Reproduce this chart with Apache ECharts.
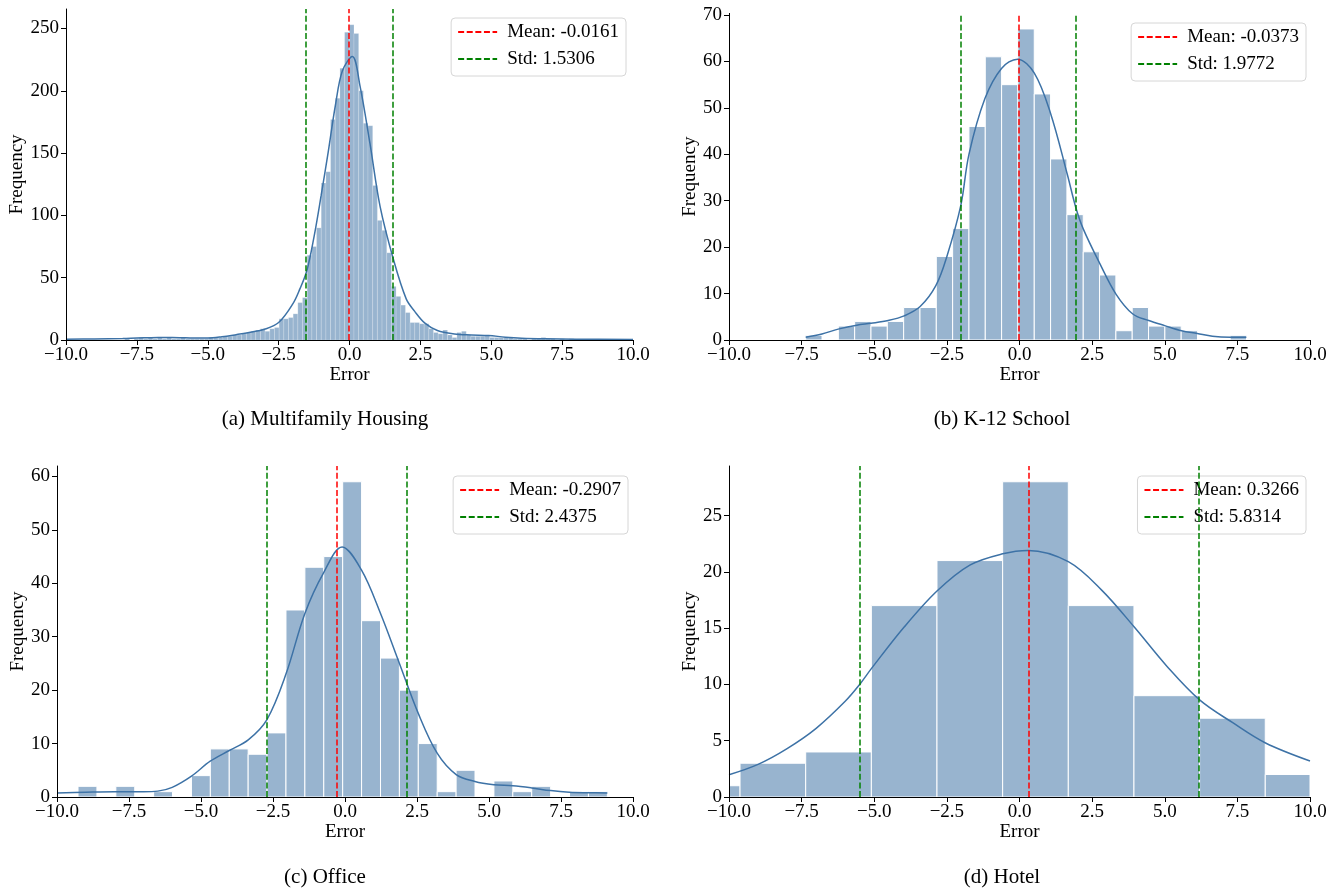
<!DOCTYPE html>
<html>
<head>
<meta charset="utf-8" />
<style>
  body { margin: 0; background: #fff; }
  #chart { width: 1337px; height: 890px; }
</style>
<script src="https://cdn.jsdelivr.net/npm/echarts@6.0.0/dist/echarts.min.js"></script>
</head>
<body>
<div id="chart"></div>
<script type="text/javascript">
// ---- values ----
var captions = ['(a) Multifamily Housing', '(b) K-12 School', '(c) Office', '(d) Hotel'];
var xTicks = [-10, -7.5, -5, -2.5, 0, 2.5, 5, 7.5, 10];

// (a) Multifamily Housing
var binStartA = -7.927, binWidthA = 0.165;
var countsA = [1, 0, 1, 2, 1, 2, 1, 2, 1, 2, 1, 1, 2, 1, 1, 1, 1, 1, 2, 2, 2, 3, 3, 4, 4, 5, 6, 7, 8, 9,
  7, 9, 10, 17, 17, 18, 21, 30, 34, 68, 75, 90, 126, 135, 177, 194, 218, 247,
  253, 246, 200, 174, 172, 124, 96, 88, 70, 43, 35, 28, 22, 14, 14, 13, 13, 9, 6, 5, 8, 4, 2, 6, 7, 4,
  3, 3, 3, 4, 2, 2, 2, 2, 2, 1, 1, 1, 0, 1, 1, 2, 1, 1, 0, 1, 0, 1];
var kdeA = [[-10, 0.6], [-9, 0.8], [-8, 1.2], [-7.5, 1.6], [-7, 1.9], [-6.5, 2.0], [-6, 1.9], [-5.5, 1.6],
  [-5, 1.6], [-4.5, 2.6], [-4, 4.3], [-3.5, 6.2], [-3.0, 8.6], [-2.5, 14], [-2.0, 29], [-1.75, 41],
  [-1.5, 56], [-1.25, 83], [-1.0, 116], [-0.75, 151], [-0.5, 188], [-0.25, 216], [0.1, 227.5], [0.37, 204],
  [0.72, 158], [1.08, 107], [1.545, 65], [2.0, 33], [2.3, 23], [2.66, 13.5], [3.1, 7.6], [3.7, 4.9],
  [4.3, 4.1], [4.9, 3.6], [5.5, 2.3], [6.07, 1.5], [6.9, 1.0], [8, 0.7], [10, 0.5]];
var meanA = -0.0161, stdA = 1.5306;
var yTicksA = [0, 50, 100, 150, 200, 250];

// (b) K-12 School
var binStartB = -7.36, binWidthB = 0.562;
var countsB = [1, 0, 3, 4, 3, 4, 7, 7, 18, 24, 46, 61, 55, 67, 53, 39, 27, 19, 14, 2, 7, 3, 3, 2, 0, 0, 1];
var kdeB = [[-7.36, 0.6], [-6.8, 1.3], [-6.21, 2.4], [-5.6, 3.2], [-5.11, 3.6], [-4.52, 4.2], [-3.97, 5.2],
  [-3.42, 7.2], [-2.88, 11.7], [-2.5, 18], [-2.02, 29], [-1.74, 40], [-1.19, 52], [-0.62, 58.5],
  [-0.07, 60.5], [0.51, 57.5], [1.07, 48.8], [1.64, 35.8], [1.94, 28.5], [2.19, 24], [2.77, 16.4],
  [3.32, 9.9], [3.9, 5.6], [4.45, 4.2], [5.0, 3.1], [5.58, 2.0], [6.12, 1.4], [6.64, 0.8], [7.26, 0.6], [7.81, 0.6]];
var meanB = -0.0373, stdB = 1.9772;
var yTicksB = [0, 10, 20, 30, 40, 50, 60, 70];

// (c) Office
var binStartC = -9.27, binWidthC = 0.6564;
var countsC = [2, 0, 2, 0, 1, 0, 4, 9, 9, 8, 12, 35, 43, 45, 59, 33, 26, 20, 10, 1, 5, 0, 3, 1, 2, 0, 1, 1];
var kdeC = [[-10, 0.75], [-9, 0.9], [-8, 1.0], [-7, 1.0], [-6.5, 1.1], [-6, 1.8], [-5.33, 3.9], [-4.68, 6.7],
  [-4.02, 8.7], [-3.36, 10.7], [-2.71, 14.5], [-2.05, 23], [-1.39, 34.4], [-0.74, 42], [-0.1, 46.8],
  [0.57, 42.5], [1.23, 34.4], [1.89, 25], [2.54, 15.7], [3.2, 8.2], [3.86, 4.2], [4.51, 2.9], [5.17, 2.3],
  [5.82, 2.1], [6.48, 1.7], [7.14, 1.2], [7.79, 0.9], [8.45, 0.8], [9.11, 0.75]];
var meanC = -0.2907, stdC = 2.4375;
var yTicksC = [0, 10, 20, 30, 40, 50, 60];

// (d) Hotel
var binStartD = -11.88, binWidthD = 2.26;
var countsD = [1, 3, 4, 17, 21, 28, 17, 9, 7, 2];
var kdeD = [[-10, 1.98], [-9, 2.9], [-8, 4.3], [-7, 6.1], [-6, 8.5], [-5.5, 10.0], [-5.1, 11.4],
  [-3.97, 15.1], [-2.84, 18.3], [-1.71, 20.6], [-0.58, 21.6], [0.3, 21.9], [1.68, 20.9], [2.82, 18.4],
  [3.95, 15.1], [5.08, 11.6], [6.21, 8.6], [7.34, 6.6], [8.47, 4.8], [10, 3.2]];
var meanD = 0.3266, stdD = 5.8314;
var yTicksD = [0, 5, 10, 15, 20, 25];

// ---- layout / styling ----
var FONT = '"Liberation Serif", "Times New Roman", serif';
var BAR_COLOR = '#98b4cf';
var KDE_COLOR = '#3d72a6';
var DASH = [6, 2.6];

var panels = [
  { start: binStartA, width: binWidthA, counts: countsA, kde: kdeA, mean: meanA, std: stdA, yTicks: yTicksA, yMax: 265.65,
    grid: { left: 66, top: 9, width: 567, height: 331 }, yGap: 35, legend: { right: 1337 - 626, top: 18 },
    caption: [325, 419], edge: 0.3, edgeColor: 'rgba(255,255,255,0.6)' },
  { start: binStartB, width: binWidthB, counts: countsB, kde: kdeB, mean: meanB, std: stdB, yTicks: yTicksB, yMax: 70.35,
    grid: { left: 729, top: 13.4, width: 581, height: 326.6 }, yGap: 25, legend: { right: 1337 - 1306, top: 23 },
    caption: [1002, 419], edge: 1, edgeColor: '#fff' },
  { start: binStartC, width: binWidthC, counts: countsC, kde: kdeC, mean: meanC, std: stdC, yTicks: yTicksC, yMax: 61.95,
    grid: { left: 57, top: 466, width: 576, height: 331 }, yGap: 26, legend: { right: 1337 - 628, top: 476 },
    caption: [325, 877], edge: 1, edgeColor: '#fff' },
  { start: binStartD, width: binWidthD, counts: countsD, kde: kdeD, mean: meanD, std: stdD, yTicks: yTicksD, yMax: 29.4,
    grid: { left: 729, top: 466, width: 581, height: 331 }, yGap: 25, legend: { right: 1337 - 1306, top: 476 },
    caption: [1002, 877], edge: 1, edgeColor: '#fff' }
];

function histData(start, width, counts) {
  return counts.map(function (c, i) {
    return [start + i * width, start + (i + 1) * width, c];
  });
}

function fmtX(v) {
  return (v < 0 ? '\u2212' : '') + Math.abs(v).toFixed(1);
}

function makeRenderBar(edge, edgeColor) {
  return function (params, api) {
    var h = api.value(2);
    if (!h) return null;
    var p0 = api.coord([api.value(0), h]);
    var p1 = api.coord([api.value(1), 0]);
    var cs = params.coordSys;
    var rect = echarts.graphic.clipRectByRect(
      { x: p0[0], y: p0[1], width: p1[0] - p0[0], height: p1[1] - p0[1] },
      { x: cs.x, y: cs.y, width: cs.width, height: cs.height });
    if (!rect) return null;
    return { type: 'rect', shape: rect, style: { fill: BAR_COLOR, stroke: edgeColor, lineWidth: edge } };
  };
}

var grids = [], xAxes = [], yAxes = [], series = [], legends = [], graphics = [];
var textStyle = { fontFamily: FONT, fontSize: 19, color: '#000' };

panels.forEach(function (p, i) {
  grids.push(Object.assign({ outerBoundsMode: 'none', containLabel: false }, p.grid));
  xAxes.push({
    type: 'value', gridIndex: i, min: -10, max: 10, interval: 2.5, z: 10,
    name: 'Error', nameLocation: 'middle', nameGap: 25, nameTextStyle: textStyle,
    axisLine: { show: true, onZero: false, lineStyle: { color: '#000', width: 1 } },
    axisTick: { show: true, length: 5, lineStyle: { color: '#000' } },
    axisLabel: Object.assign({ margin: 6, formatter: fmtX, showMinLabel: true, showMaxLabel: true }, textStyle),
    splitLine: { show: false }
  });
  yAxes.push({
    type: 'value', gridIndex: i, min: 0, max: p.yMax, z: 10,
    name: 'Frequency', nameLocation: 'middle', nameGap: p.yGap, nameTextStyle: textStyle,
    axisLine: { show: true, onZero: false, lineStyle: { color: '#000', width: 1 } },
    axisTick: { show: true, length: 5, customValues: p.yTicks, lineStyle: { color: '#000' } },
    axisLabel: Object.assign({ margin: 7, customValues: p.yTicks }, textStyle),
    splitLine: { show: false }
  });
  series.push({
    type: 'custom', xAxisIndex: i, yAxisIndex: i, silent: true, z: 2,
    renderItem: makeRenderBar(p.edge, p.edgeColor), data: histData(p.start, p.width, p.counts)
  });
  series.push({
    type: 'line', xAxisIndex: i, yAxisIndex: i, silent: true, z: 3,
    data: p.kde, smooth: 0.35, symbol: 'none', showSymbol: false,
    lineStyle: { color: KDE_COLOR, width: 1.5 }
  });
  var meanName = 'Mean: ' + p.mean.toFixed(4);
  var stdName = 'Std: ' + p.std.toFixed(4);
  series.push({
    type: 'line', name: meanName, xAxisIndex: i, yAxisIndex: i, data: [], z: 4, symbol: 'none',
    lineStyle: { color: '#ff0000', width: 1.5, type: DASH }, itemStyle: { color: '#ff0000' },
    markLine: { silent: true, symbol: 'none', label: { show: false }, animation: false,
      lineStyle: { color: '#ff0000', width: 1.5, type: DASH }, data: [{ xAxis: p.mean }] }
  });
  series.push({
    type: 'line', name: stdName, xAxisIndex: i, yAxisIndex: i, data: [], z: 4, symbol: 'none',
    lineStyle: { color: '#008000', width: 1.5, type: DASH }, itemStyle: { color: '#008000' },
    markLine: { silent: true, symbol: 'none', label: { show: false }, animation: false,
      lineStyle: { color: '#008000', width: 1.5, type: DASH },
      data: [{ xAxis: p.mean - p.std }, { xAxis: p.mean + p.std }] }
  });
  legends.push({
    data: [meanName, stdName], orient: 'vertical', right: p.legend.right, top: p.legend.top,
    itemWidth: 39, itemHeight: 14, itemGap: 5, padding: [3, 7, 6, 6], selectedMode: false,
    borderColor: '#d6d6d6', borderWidth: 1, borderRadius: 4, backgroundColor: 'rgba(255,255,255,0.85)',
    itemStyle: { color: 'rgba(0,0,0,0)', borderColor: 'rgba(0,0,0,0)', borderWidth: 0 },
    textStyle: { fontFamily: FONT, fontSize: 19, color: '#000', lineHeight: 22, padding: [0, 0, 0, 5] }
  });
  graphics.push({
    type: 'text', x: p.caption[0], y: p.caption[1],
    style: { text: captions[i], align: 'center', verticalAlign: 'middle', font: '21px ' + FONT, fill: '#000' }
  });
});

var chart = echarts.init(document.getElementById('chart'));
chart.setOption({
  animation: false,
  backgroundColor: '#fff',
  grid: grids,
  xAxis: xAxes,
  yAxis: yAxes,
  legend: legends,
  graphic: graphics,
  series: series
});
</script>
</body>
</html>
